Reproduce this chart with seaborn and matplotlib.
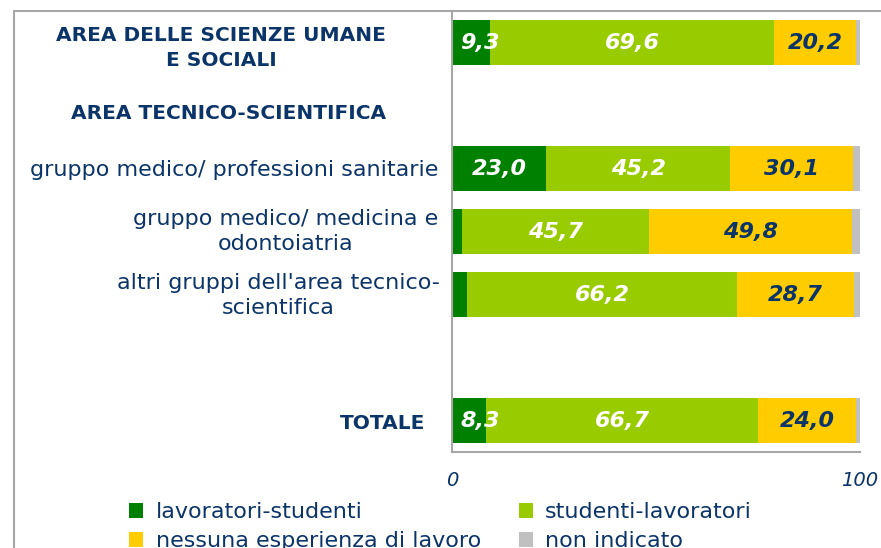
import matplotlib
matplotlib.use("Agg")
import matplotlib.pyplot as plt
import numpy as np
import pandas as pd
import seaborn as sns
from matplotlib.lines import Line2D
from matplotlib.patches import Patch

# ── Data ─────────────────────────────────────────────────────────────────────
rows = [
    "AREA DELLE SCIENZE UMANE\nE SOCIALI",
    "AREA TECNICO-SCIENTIFICA",
    "gruppo medico/ professioni sanitarie",
    "gruppo medico/ medicina e\nodontoiatria",
    "altri gruppi dell'area tecnico-\nscientifica",
    " ",
    "TOTALE",
]
bar_rows = [rows[0], rows[2], rows[3], rows[4], rows[6]]
lav_stud = [9.3, 23.0, 2.5, 3.7, 8.3]
stud_lav = [69.6, 45.2, 45.7, 66.2, 66.7]
nessuna = [20.2, 30.1, 49.8, 28.7, 24.0]
non_ind = [0.9, 1.7, 2.0, 1.4, 1.0]

series_names = [
    "lavoratori-studenti",
    "studenti-lavoratori",
    "nessuna esperienza di lavoro",
    "non indicato",
]
colors = ["#008000", "#99CC00", "#FFCC00", "#C0C0C0"]
label_colors = ["white", "white", "#0B3468", None]
bold_rows = [rows[0], rows[1], rows[6]]

NAVY = "#0B3468"
GRID = "#A6A6A6"

# ── Plot ─────────────────────────────────────────────────────────────────────
sns.set_theme(style="white")
plt.rcParams["font.family"] = ["DejaVu Sans"]

fig = plt.figure(figsize=(8.81, 5.48), dpi=100)
ax = fig.add_axes([452 / 881, 1 - 452 / 548, 408 / 881, 441 / 548])

values = np.array([lav_stud, stud_lav, nessuna, non_ind])
cum = np.cumsum(values, axis=0)

# stacked bars: draw cumulative totals from the back to the front
for i in reversed(range(4)):
    df = pd.DataFrame({"riga": bar_rows, "valore": cum[i]})
    sns.barplot(
        data=df, x="valore", y="riga", order=rows, orient="h",
        color=colors[i], saturation=1, width=0.7, linewidth=0, ax=ax,
    )

# value labels (narrow segments: label starts just inside the bar)
for i in range(3):
    starts = cum[i] - values[i]
    for r, v, s in zip(bar_rows, values[i], starts):
        if v < 5:
            continue
        txt = f"{v:.1f}".replace(".", ",")
        kw = dict(va="center", fontsize=16, fontweight="bold",
                  fontstyle="italic", color=label_colors[i])
        if v < 12:
            ax.text(s + 2.0, rows.index(r), txt, ha="left", **kw)
        else:
            ax.text(s + v / 2, rows.index(r), txt, ha="center", **kw)

ax.set_xlim(0, 100)
ax.set_ylim(len(rows) - 0.5, -0.5)
ax.set_xticks([0, 100])
ax.set_xticklabels(["0", "100"], fontstyle="italic", fontsize=14, color=NAVY)
ax.tick_params(axis="x", length=0, pad=14)
ax.set_yticks(range(len(rows)))
ax.set_yticklabels([])
ax.tick_params(axis="y", length=0)
ax.set_xlabel("")
ax.set_ylabel("")
for side in ["top", "right"]:
    ax.spines[side].set_visible(False)
for side in ["left", "bottom"]:
    ax.spines[side].set_color(GRID)
    ax.spines[side].set_linewidth(1.5)

# category labels (placed in axes-x / data-y coordinates)
ytrans = ax.get_yaxis_transform()
px = lambda p: (p - 452) / 408
label_pos = {
    rows[0]: (px(386), 0.09),
    rows[1]: (px(386), 0.13),
    rows[2]: (px(438), 0.02),
    rows[3]: (px(438), 0.0),
    rows[4]: (px(440), 0.02),
    rows[6]: (px(425), 0.05),
}
for r, (x, dy) in label_pos.items():
    bold = r in bold_rows
    ax.text(
        x, rows.index(r) + dy, r, transform=ytrans, ha="right", va="center",
        multialignment="center", color=NAVY,
        fontsize=14.5 if bold else 16,
        fontweight="bold" if bold else "normal",
        linespacing=1.4 if bold else 1.3,
    )

# outer chart frame
fig.add_artist(Line2D([14 / 881, 1], [1 - 11 / 548] * 2, color=GRID, lw=1.5,
                      transform=fig.transFigure))
fig.add_artist(Line2D([14 / 881] * 2, [0, 1 - 11 / 548], color=GRID, lw=1.5,
                      transform=fig.transFigure))

# legend, row-wise order
order = [0, 2, 1, 3]
handles = [Patch(facecolor=colors[i], edgecolor="none") for i in order]
fig.legend(
    handles, [series_names[i] for i in order], ncol=2, frameon=False,
    loc="upper left", bbox_to_anchor=(120 / 881, 1 - 493 / 548),
    fontsize=16, labelcolor=NAVY, handlelength=0.65, handleheight=0.65,
    handletextpad=0.55, columnspacing=1.7, labelspacing=0.42,
    borderaxespad=0,
)

fig.savefig("out.png", dpi=100)
